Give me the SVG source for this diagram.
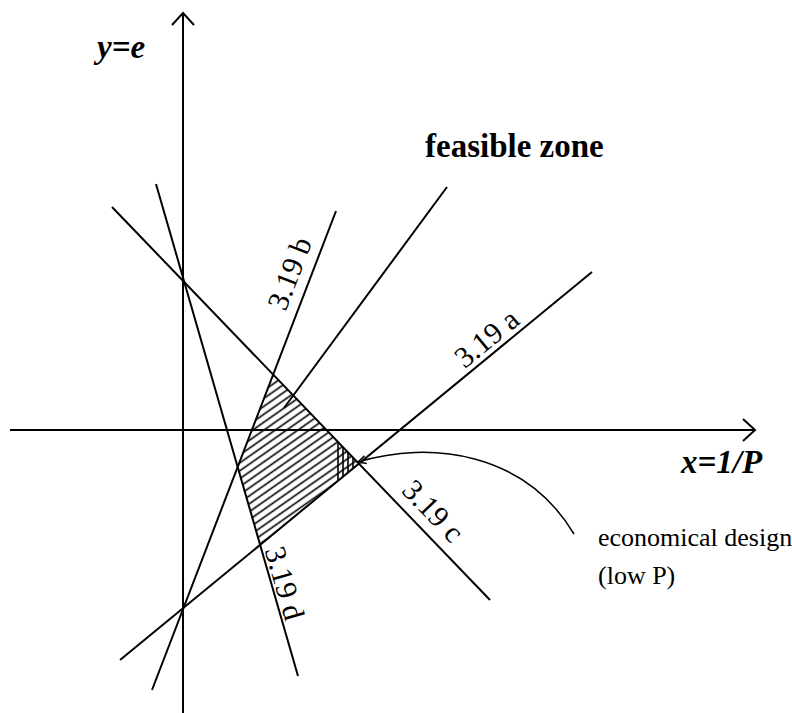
<svg xmlns="http://www.w3.org/2000/svg" width="792" height="713" viewBox="0 0 792 713">
<style>
.ln{stroke:#000;stroke-width:2;fill:none}
.t{font-family:"Liberation Serif","Times New Roman",serif;fill:#000}
.bi{font-weight:bold;font-style:italic;font-size:33px}
.b{font-weight:bold;font-size:33px}
.r{font-size:26px}
.lab{font-size:30px}
</style>
<defs>
<pattern id="hatch" patternUnits="userSpaceOnUse" width="12" height="6.5" patternTransform="rotate(-35)">
<line x1="0" y1="3.2" x2="12" y2="3.2" stroke="#000" stroke-width="1.6"/>
</pattern>
<clipPath id="zone"><polygon points="273.3,374.7 358.8,463.7 260.1,544.8 237.8,467.3"/></clipPath>
<marker id="open" markerWidth="10" markerHeight="10" refX="9" refY="5" orient="auto-start-reverse" markerUnits="userSpaceOnUse">
<path d="M1,1 L9,5 L1,9" fill="none" stroke="#000" stroke-width="1.5"/>
</marker>
<marker id="axarrow" markerWidth="24" markerHeight="26" refX="20" refY="13" orient="auto" markerUnits="userSpaceOnUse">
<path d="M8,2 L20,13 L8,24" fill="none" stroke="#000" stroke-width="2"/>
</marker>
</defs>
<rect width="792" height="713" fill="#fff"/>
<g id="zone-hatch">
<polygon points="273.3,374.7 358.8,463.7 260.1,544.8 237.8,467.3" fill="url(#hatch)"/>
<g clip-path="url(#zone)" stroke="#000" stroke-width="1.6">
<line x1="338" y1="430" x2="338" y2="490"/>
<line x1="343" y1="430" x2="343" y2="490"/>
<line x1="348" y1="430" x2="348" y2="490"/>
<line x1="353" y1="430" x2="353" y2="490"/>
</g>
</g>
<g id="connectors">
<line id="y-axis" class="ln" x1="183" y1="713" x2="183" y2="13" marker-end="url(#axarrow)"/>
<line id="x-axis" class="ln" x1="10" y1="430" x2="755" y2="430" marker-end="url(#axarrow)"/>
<line id="line-a" class="ln" x1="120" y1="660" x2="592" y2="272"/>
<line id="line-b" class="ln" x1="152" y1="690" x2="336" y2="211"/>
<line id="line-c" class="ln" x1="112" y1="207" x2="490" y2="600"/>
<line id="line-d" class="ln" x1="156" y1="184" x2="298" y2="676"/>
<line id="feasible-pointer" class="ln" x1="447" y1="187" x2="284" y2="408"/>
<path id="econ-pointer" d="M358,462 C430,440 525,452 574,534" fill="none" stroke="#000" stroke-width="1.5" marker-start="url(#open)"/>
</g>
<g id="labels">
<text class="t bi" x="97" y="58">y=e</text>
<text class="t b" x="425" y="157">feasible zone</text>
<text class="t bi" x="681" y="473">x=1/P</text>
<text class="t r" x="598" y="546">economical design</text>
<text class="t r" x="598" y="584">(low P)</text>
<text class="t lab" text-anchor="middle" transform="translate(299,277) rotate(-69)">3.19 b</text>
<text class="t lab" text-anchor="middle" transform="translate(493,346) rotate(-39.4)">3.19 a</text>
<text class="t lab" text-anchor="middle" transform="translate(426,518) rotate(46.1)">3.19 c</text>
<text class="t lab" text-anchor="middle" transform="translate(275,586) rotate(73.9)">3.19 d</text>
</g>
</svg>
